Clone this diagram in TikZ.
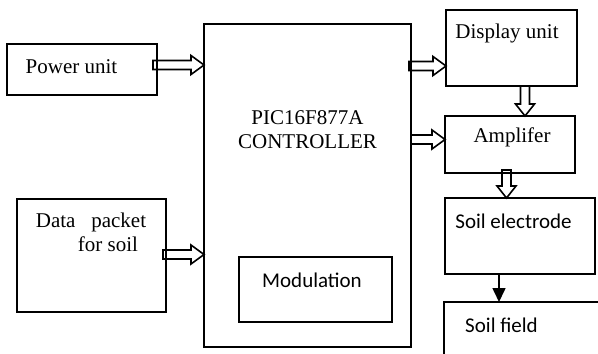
\documentclass[tikz,border=0pt]{standalone}
\usepackage{fontspec}
\setmainfont{Liberation Serif}
\newfontfamily\calibri{Carlito}
\usetikzlibrary{calc,arrows.meta}

% hollow block arrows: tail coordinate, target
\newcommand{\hollowright}[2]{%
  \draw[hollow] let \p1=(#1), \p2=(#2) in
    (\x1,\y1+2.25pt) -- (\x2-6.5pt,\y1+2.25pt) -- (\x2-6.5pt,\y1+4.75pt) -- (\x2,\y1)
    -- (\x2-6.5pt,\y1-4.75pt) -- (\x2-6.5pt,\y1-2.25pt) -- (\x1,\y1-2.25pt) -- cycle;}
\newcommand{\hollowdown}[2]{%
  \draw[hollow] let \p1=(#1), \p2=(#2) in
    (\x1-2.25pt,\y1) -- (\x1-2.25pt,\y2+6pt) -- (\x1-4.75pt,\y2+6pt) -- (\x1,\y2)
    -- (\x1+4.75pt,\y2+6pt) -- (\x1+2.25pt,\y2+6pt) -- (\x1+2.25pt,\y1) -- cycle;}

\begin{document}
\begin{tikzpicture}[x=0.5pt, y=-0.5pt,
  every node/.style={font=\fontsize{10.5pt}{12pt}\selectfont, inner sep=0pt},
  box/.style={draw, line width=1pt, outer sep=0pt},
  hollow/.style={draw, line width=0.8pt, line join=miter}]
  \useasboundingbox (0,0) rectangle (598,353);
  \clip (0,0) rectangle (598,353);
  % Power unit
  \node[box, minimum width=75pt, minimum height=25.5pt] (power) at (82,69.5) {};
  \node (powertxt) at (71.5,66.5) {Power unit};
  % Data packet
  \node[box, minimum width=74.5pt, minimum height=56.5pt] (data) at (91.5,255.5) {};
  \node[align=left] (datatxt) at (91,232) {Data\ \ \ packet\\\hspace*{21pt}for soil};
  % Controller
  \node[box, minimum width=103.5pt, minimum height=161.5pt] (ctrl) at (307.5,185.5) {};
  \node[align=center] (ctrltxt) at (307.5,130) {PIC16F877A\\CONTROLLER};
  % Modulation
  \node[box, minimum width=76.5pt, minimum height=32.5pt] (modul) at (315.5,289.5) {};
  \node (modultxt) at (312,280) {\calibri Modulation};
  % Display unit
  \node[box, minimum width=65.5pt, minimum height=38pt] (disp) at (511.5,48) {};
  \node (disptxt) at (507,33) {Display unit};
  % Amplifer
  \node[box, minimum width=65pt, minimum height=28.5pt] (amp) at (510,144.5) {};
  \node (amptxt) at (512,137) {Amplifer};
  % Soil electrode
  \node[box, minimum width=75pt, minimum height=38pt] (elec) at (520,236) {};
  \node (electxt) at (513.5,221.5) {\calibri Soil electrode};
  % Soil field
  \node[box, minimum width=86pt, minimum height=50pt] (field) at (530,352) {};
  \node (fieldtxt) at (501.5,325.5) {\calibri Soil field};
  % block arrows
  \hollowright{$(power.east)+(-4,-4.5)$}{ctrl.west}
  \hollowright{$(data.east)+(-3,-1)$}{ctrl.west}
  \hollowright{$(ctrl.east |- disp.west)+(-2,18)$}{disp.west}
  \hollowright{$(ctrl.east |- amp.west)+(0,-5)$}{amp.west}
  \hollowdown{$(disp.south)+(13.5,0)$}{amp.north}
  \hollowdown{$(amp.south)+(-3.5,-3)$}{elec.north}
  % electrode to field
  \coordinate (ef) at ($(elec.south)+(-21,0)$);
  \draw[line width=0.8pt, -{Triangle[length=7pt, width=6.5pt]}] (ef) -- (ef |- field.north);
\end{tikzpicture}
\end{document}
